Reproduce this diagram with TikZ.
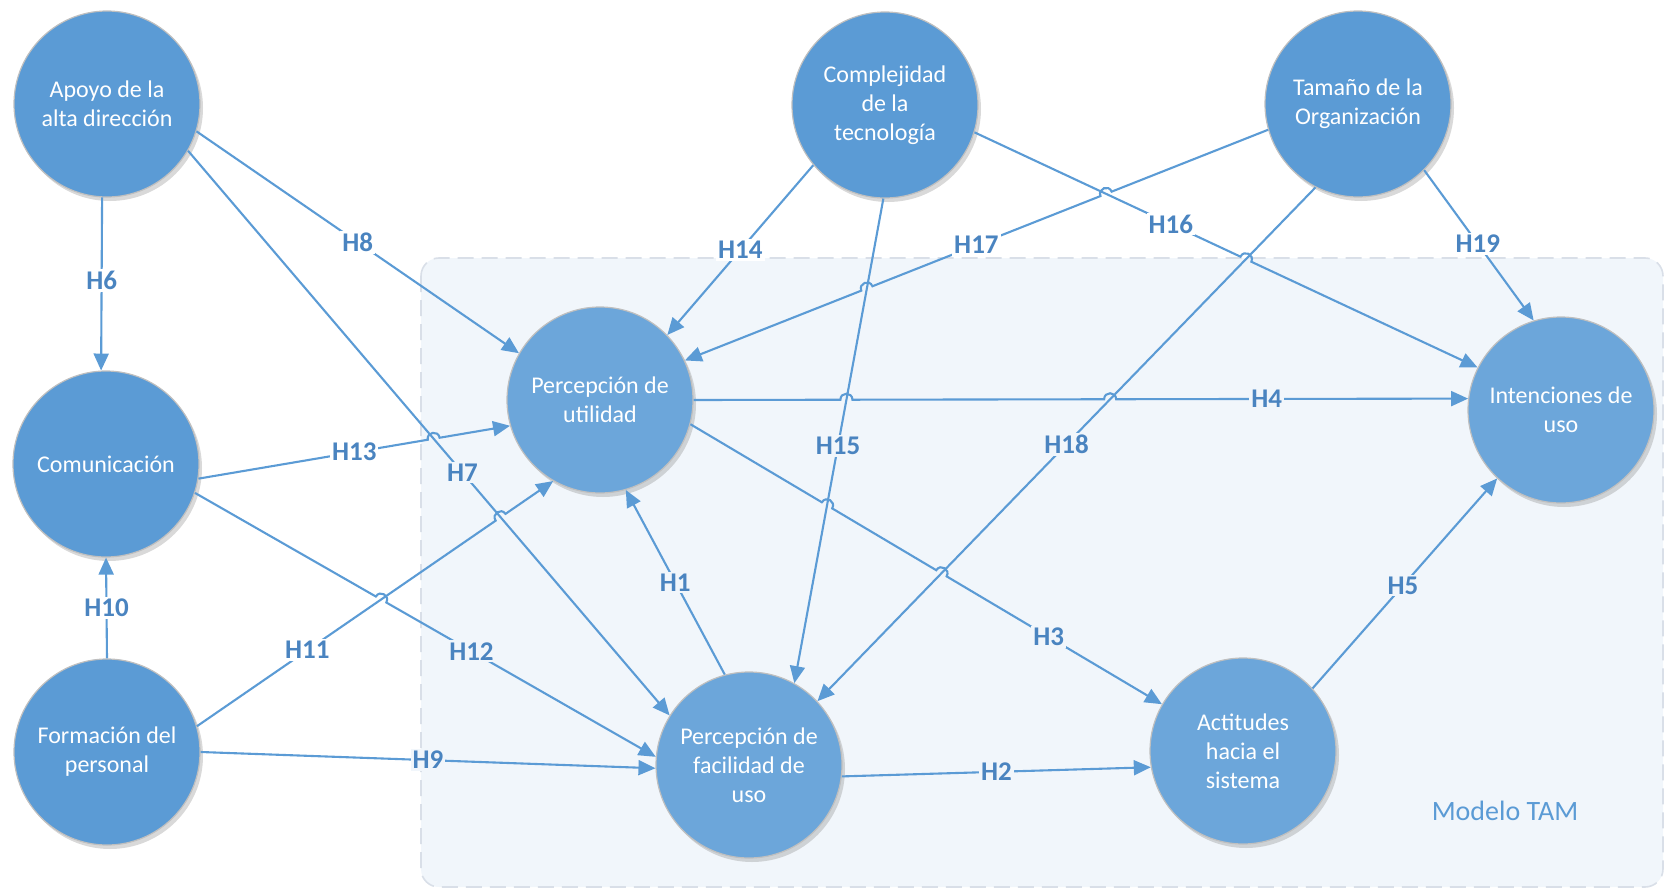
\documentclass[tikz,border=0pt]{standalone}
\usepackage{fontspec}
\setmainfont{Carlito}
\usetikzlibrary{arrows.meta,calc,intersections,shadows}
\definecolor{outerc}{HTML}{5B9BD5}
\definecolor{innerc}{HTML}{6CA6DA}
\definecolor{edgec}{HTML}{5B9BD5}
\definecolor{lblc}{HTML}{4A84C0}
\definecolor{tambg}{HTML}{F1F6FB}
\definecolor{tamln}{HTML}{D9DFE8}
\definecolor{tamtxt}{HTML}{5B9BD5}
\tikzset{
 construct/.style={circle, minimum size=93pt, inner sep=0pt, draw=black!25, line width=0.6pt,
   text=white, align=center, font=\fontsize{12}{14.5}\selectfont,
   drop shadow={opacity=0.3, shadow xshift=1.5pt, shadow yshift=-2pt}},
 outer/.style={construct, fill=outerc},
 inner/.style={construct, fill=innerc},
 edge/.style={draw=edgec, line width=1.05pt, -{Triangle[length=8.5pt,width=7.5pt]}},
 lbl/.style={font=\bfseries\fontsize{13.5}{14}\selectfont, text=lblc, inner sep=1pt},
 lblw/.style={lbl, fill=white},
 lblt/.style={lbl, fill=tambg},
 hop/.style={bend left=90, looseness=1.7},
 hopr/.style={bend right=90, looseness=1.7},
 tambox/.style={fill=tambg, draw=tamln, line width=0.8pt, dash pattern=on 8pt off 4pt, rounded corners=9pt},
 tamlabel/.style={text=tamtxt, font=\fontsize{14}{16}\selectfont, inner sep=0pt},
}
\begin{document}
\begin{tikzpicture}[x=0.5pt,y=-0.5pt]
\useasboundingbox (0,0) rectangle (1666,888);
\draw[tambox] (421,258) rectangle (1663,887);
\node[tamlabel] (tamlbl) at (1505,811) {Modelo TAM};

% nodes
\node[outer] (apoyo) at (107,104) {Apoyo de la\\alta dirección};
\node[outer] (com) at (106,464) {Comunicación};
\node[outer] (form) at (107,752) {Formación del\\personal};
\node[outer] (comp) at (885,105) {Complejidad\\de la\\tecnología};
\node[outer] (tama) at (1358,104) {Tamaño de la\\Organización};
\node[inner] (pu) at (600,400) {Percepción de\\utilidad};
\node[inner] (pf) at (749,765) {Percepción de\\facilidad de\\uso};
\node[inner] (act) at (1243,751) {Actitudes\\hacia el\\sistema};
\node[inner] (int) at (1561,410) {Intenciones de\\uso};

% invisible paths for crossings
\path[name path=p7] (apoyo.-30) -- (pf.148);
\path[name path=p11] (form.16) -- (pu.240);
\path[name path=p12] (com.-18) -- (pf.175);
\path[name path=p13] (com.-9) -- (pu.196);
\path[name path=p15] (comp.-91) -- (pf.61);
\path[name path=p16] (comp.-17) -- (int.153);
\path[name path=p17] (tama.196) -- (pu.25);
\path[name path=p18] (tama.243) -- (pf.43);
\path[name path=p4] (pu.0) -- (int.173);
\path[name path=p3] (pu.-15) -- (act.150);
\path[name intersections={of=p13 and p7, by=i13}];
\path[name intersections={of=p11 and p7, by=i11}];
\path[name intersections={of=p12 and p11, by=i12}];
\path[name intersections={of=p17 and p16, by=i17a}];
\path[name intersections={of=p17 and p15, by=i17b}];
\path[name intersections={of=p16 and p18, by=i16}];
\path[name intersections={of=p4 and p15, by=i4a}];
\path[name intersections={of=p4 and p18, by=i4b}];
\path[name intersections={of=p3 and p15, by=i3a}];
\path[name intersections={of=p3 and p18, by=i3b}];

% plain connectors
\draw[edge] (apoyo.-93) -- (com.93);
\draw[edge] (form.90) -- (com.-90);
\draw[edge] (apoyo.-17) -- (pu.150);
\draw[edge] (apoyo.-30) -- (pf.148);
\draw[edge] (form.0) -- (pf.182);
\draw[edge] (comp.220) -- (pu.44);
\draw[edge] (comp.-91) -- (pf.61);
\draw[edge] (tama.243) -- (pf.43);
\draw[edge] (tama.-45) -- (int.107);
\draw[edge] (pf.105) -- (pu.-74);
\draw[edge] (pf.-7) -- (act.190);
\draw[edge] (act.42) -- (int.227);

% connectors with hops
\draw[edge] (com.-9) -- ($(i13)!3pt!(com.-9)$) to[hop] ($(i13)!3pt!(pu.196)$) -- (pu.196);
\draw[edge] (form.16) -- ($(i11)!3pt!(form.16)$) to[hop] ($(i11)!3pt!(pu.240)$) -- (pu.240);
\draw[edge] (com.-18) -- ($(i12)!3pt!(com.-18)$) to[hop] ($(i12)!3pt!(pf.175)$) -- (pf.175);
\draw[edge] (tama.196) -- ($(i17a)!3pt!(tama.196)$) to[hopr] ($(i17a)!3pt!(pu.25)$)
   -- ($(i17b)!3pt!(tama.196)$) to[hopr] ($(i17b)!3pt!(pu.25)$) -- (pu.25);
\draw[edge] (comp.-17) -- ($(i16)!3pt!(comp.-17)$) to[hop] ($(i16)!3pt!(int.153)$) -- (int.153);
\draw[edge] (pu.0) -- ($(i4a)!3pt!(pu.0)$) to[hop] ($(i4a)!3pt!(int.173)$)
   -- ($(i4b)!3pt!(pu.0)$) to[hop] ($(i4b)!3pt!(int.173)$) -- (int.173);
\draw[edge] (pu.-15) -- ($(i3a)!3pt!(pu.-15)$) to[hop] ($(i3a)!3pt!(act.150)$)
   -- ($(i3b)!3pt!(pu.-15)$) to[hop] ($(i3b)!3pt!(act.150)$) -- (act.150);

% labels
\path (apoyo.-93) -- node[lblw,pos=0.48] (l6) {H6} (com.93);
\path (form.90) -- node[lblw,pos=0.5] (l10) {H10} (com.-90);
\path (apoyo.-17) -- node[lblw,pos=0.5] (l8) {H8} (pu.150);
\path (apoyo.-30) -- node[lblt,pos=0.57] (l7) {H7} (pf.148);
\path (com.-9) -- node[lblw,pos=0.5] (l13) {H13} (pu.196);
\path (com.-18) -- node[lblt,pos=0.6] (l12) {H12} (pf.175);
\path (form.16) -- node[lblw,pos=0.31] (l11) {H11} (pu.240);
\path (form.0) -- node[lblt,pos=0.5] (l9) {H9} (pf.182);
\path (comp.220) -- node[lblw,pos=0.5] (l14) {H14} (pu.44);
\path (comp.-91) -- node[lblt,pos=0.51] (l15) {H15} (pf.61);
\path (comp.-17) -- node[lblw,pos=0.39] (l16) {H16} (int.153);
\path (tama.196) -- node[lblw,pos=0.5] (l17) {H17} (pu.25);
\path (tama.243) -- node[lblt,pos=0.5] (l18) {H18} (pf.43);
\path (tama.-45) -- node[lblw,pos=0.49] (l19) {H19} (int.107);
\path (pf.105) -- node[lblt,pos=0.5] (l1) {H1} (pu.-74);
\path (pf.-7) -- node[lblt,pos=0.5] (l2) {H2} (act.190);
\path (pu.-15) -- node[lblt,pos=0.76] (l3) {H3} (act.150);
\path (pu.0) -- node[lblt,pos=0.74] (l4) {H4} (int.173);
\path (act.42) -- node[lblt,pos=0.49] (l5) {H5} (int.227);
\end{tikzpicture}
\end{document}
